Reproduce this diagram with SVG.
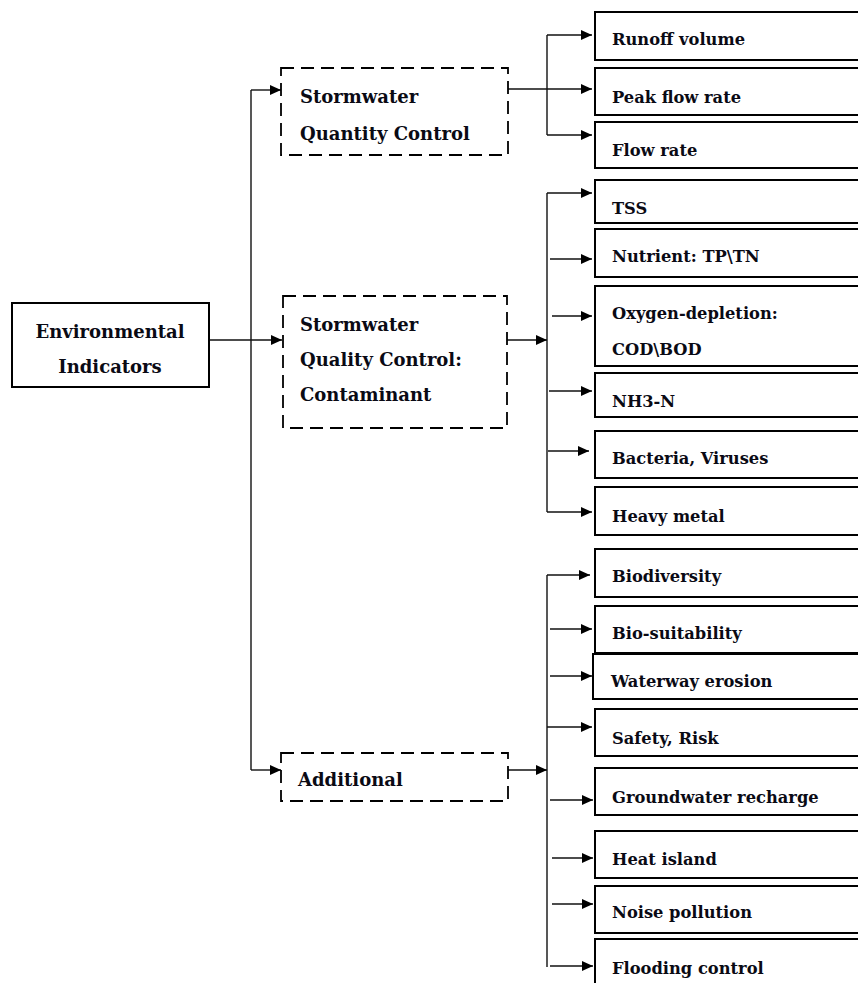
<svg xmlns="http://www.w3.org/2000/svg" width="858" height="983" viewBox="0 0 858 983">
<defs>
<marker id="ah" markerUnits="userSpaceOnUse" markerWidth="12" markerHeight="10" refX="11" refY="5" orient="auto">
<path d="M0,0 L11,5 L0,10 z" fill="#000"/>
</marker>
<style>
.box{fill:#fff;stroke:#000;stroke-width:2}
.dbox{fill:#fff;stroke:#000;stroke-width:1.8;stroke-dasharray:13 7}
.ln{fill:none;stroke:#111;stroke-width:1.4}
.ar{fill:none;stroke:#111;stroke-width:1.4;marker-end:url(#ah)}
.t{font-family:"DejaVu Serif","Liberation Serif",serif;font-weight:bold;font-size:16.3px;fill:#0a0a14}
.m{font-family:"DejaVu Serif","Liberation Serif",serif;font-weight:bold;font-size:18px;fill:#0a0a14}
</style>
</defs>
<rect width="858" height="983" fill="#fff"/>
<g id="connectors">
<line class="ln" x1="251" y1="90" x2="251" y2="770"/>
<line class="ar" x1="251" y1="90" x2="281" y2="90"/>
<line class="ar" x1="209" y1="340" x2="282" y2="340"/>
<line class="ar" x1="251" y1="770" x2="281" y2="770"/>
<line class="ln" x1="547" y1="35" x2="547" y2="135"/>
<line class="ar" x1="508" y1="89" x2="592" y2="89"/>
<line class="ar" x1="547" y1="35" x2="592" y2="35"/>
<line class="ar" x1="547" y1="135" x2="592" y2="135"/>
<line class="ln" x1="547" y1="193" x2="547" y2="512"/>
<line class="ar" x1="507" y1="340" x2="547" y2="340"/>
<line class="ar" x1="547" y1="193" x2="592" y2="193"/>
<line class="ar" x1="550" y1="259" x2="592" y2="259"/>
<line class="ar" x1="552" y1="316" x2="592" y2="316"/>
<line class="ar" x1="549" y1="391" x2="592" y2="391"/>
<line class="ar" x1="548" y1="451" x2="589" y2="451"/>
<line class="ar" x1="547" y1="512" x2="592" y2="512"/>
<line class="ln" x1="547" y1="575" x2="547" y2="967"/>
<line class="ar" x1="508" y1="770" x2="547" y2="770"/>
<line class="ar" x1="547" y1="575" x2="590" y2="575"/>
<line class="ar" x1="550" y1="629" x2="592" y2="629"/>
<line class="ar" x1="550" y1="676" x2="592" y2="676"/>
<line class="ar" x1="547" y1="727" x2="592" y2="727"/>
<line class="ar" x1="550" y1="800" x2="593" y2="800"/>
<line class="ar" x1="552" y1="858" x2="593" y2="858"/>
<line class="ar" x1="552" y1="904" x2="593" y2="904"/>
<line class="ar" x1="550" y1="966" x2="593" y2="966"/>
</g>
<g id="env">
<rect class="box" x="12" y="303" width="197" height="84"/>
<text class="m" x="110" y="338" text-anchor="middle">Environmental</text>
<text class="m" x="110" y="373" text-anchor="middle">Indicators</text>
</g>
<g id="quantity">
<rect class="dbox" x="281" y="68" width="227" height="87"/>
<text class="m" x="300" y="103">Stormwater</text>
<text class="m" x="300" y="140">Quantity Control</text>
</g>
<g id="quality">
<rect class="dbox" x="283" y="296" width="224" height="132"/>
<text class="m" x="300" y="331">Stormwater</text>
<text class="m" x="300" y="366">Quality Control:</text>
<text class="m" x="300" y="401">Contaminant</text>
</g>
<g id="additional">
<rect class="dbox" x="281" y="753" width="227" height="48"/>
<text class="m" x="298" y="786">Additional</text>
</g>
<g id="runoff"><rect class="box" x="595" y="12" width="300" height="48"/><text class="t" x="612" y="45">Runoff volume</text></g>
<g id="peak"><rect class="box" x="595" y="68" width="300" height="47"/><text class="t" x="612" y="103">Peak flow rate</text></g>
<g id="flow"><rect class="box" x="595" y="122" width="300" height="46"/><text class="t" x="612" y="156">Flow rate</text></g>
<g id="tss"><rect class="box" x="595" y="180" width="300" height="43"/><text class="t" x="612" y="214">TSS</text></g>
<g id="nutrient"><rect class="box" x="595" y="229" width="300" height="48"/><text class="t" x="612" y="262">Nutrient: TP\TN</text></g>
<g id="oxygen"><rect class="box" x="595" y="286" width="300" height="80"/><text class="t" x="612" y="319">Oxygen-depletion:</text><text class="t" x="612" y="355">COD\BOD</text></g>
<g id="nh3"><rect class="box" x="595" y="373" width="300" height="44"/><text class="t" x="612" y="407">NH3-N</text></g>
<g id="bacteria"><rect class="box" x="595" y="431" width="300" height="47"/><text class="t" x="612" y="464">Bacteria, Viruses</text></g>
<g id="heavy"><rect class="box" x="595" y="487" width="300" height="48"/><text class="t" x="612" y="522">Heavy metal</text></g>
<g id="biodiversity"><rect class="box" x="595" y="549" width="300" height="48"/><text class="t" x="612" y="582">Biodiversity</text></g>
<g id="biosuit"><rect class="box" x="595" y="606" width="300" height="47"/><text class="t" x="612" y="639">Bio-suitability</text></g>
<g id="waterway"><rect class="box" x="593" y="654" width="300" height="45"/><text class="t" x="611" y="687">Waterway erosion</text></g>
<g id="safety"><rect class="box" x="595" y="709" width="300" height="47"/><text class="t" x="612" y="744">Safety, Risk</text></g>
<g id="groundwater"><rect class="box" x="595" y="768" width="300" height="47"/><text class="t" x="612" y="803">Groundwater recharge</text></g>
<g id="heat"><rect class="box" x="595" y="831" width="300" height="47"/><text class="t" x="612" y="865">Heat island</text></g>
<g id="noise"><rect class="box" x="595" y="886" width="300" height="47"/><text class="t" x="612" y="918">Noise pollution</text></g>
<g id="flooding"><rect class="box" x="595" y="939" width="300" height="60"/><text class="t" x="612" y="974">Flooding control</text></g>
</svg>
